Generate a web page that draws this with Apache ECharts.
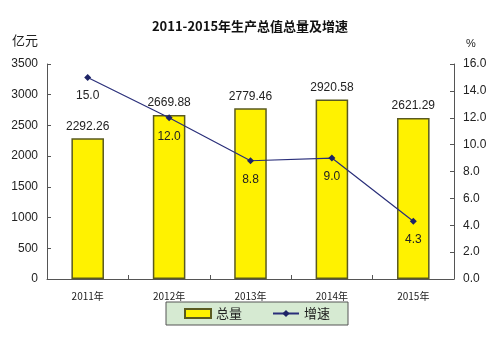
<!DOCTYPE html>
<html>
<head>
<meta charset="utf-8">
<script src="https://cdn.jsdelivr.net/npm/echarts@6/dist/echarts.min.js"></script>
<style>
  html, body { margin: 0; padding: 0; background: #fff; }
  #chart { width: 500px; height: 345px; }
</style>
</head>
<body>
<div id="chart"></div>
<script>
// 2011-2015 output totals (亿元) and growth rates (%)
const years = ['2011年', '2012年', '2013年', '2014年', '2015年'];
const totals = [2292.26, 2669.88, 2779.46, 2920.58, 2621.29];
const growth = [15.0, 12.0, 8.8, 9.0, 4.3];
const leftTicks = { min: 0, max: 3500, interval: 500 };
const rightTicks = { min: 0, max: 16, interval: 2 };

const font = '"Liberation Sans", Arial, sans-serif';
const cjk = '"Noto Sans CJK SC", sans-serif';

const chart = echarts.init(document.getElementById('chart'), null, { renderer: 'canvas' });
chart.setOption({
  backgroundColor: '#ffffff',
  animation: false,
  title: {
    text: '2011-2015年生产总值总量及增速',
    left: 'center',
    top: 15,
    textStyle: { fontFamily: cjk, fontSize: 13, fontWeight: 'bold', color: '#111' }
  },
  graphic: [
    { type: 'text', left: 12, top: 34, style: { text: '亿元', font: '13px ' + cjk, fill: '#222' } },
    { type: 'text', left: 466, top: 38, style: { text: '%', font: '11px ' + font, fill: '#222' } }
  ],
  legend: {
    left: 166,
    top: 302,
    padding: [5, 18, 5, 18],
    itemGap: 30,
    itemWidth: 26,
    itemHeight: 9,
    backgroundColor: '#d6ead2',
    borderColor: '#555',
    borderWidth: 1,
    borderRadius: 0,
    textStyle: { fontFamily: cjk, fontSize: 13, color: '#222' },
    data: [
      { name: '总量', icon: 'rect' },
      { name: '增速' }
    ]
  },
  grid: { left: 47, right: 46, top: 64, bottom: 66 },
  xAxis: {
    type: 'category',
    data: years,
    axisLine: { lineStyle: { color: '#555', width: 1 } },
    axisTick: { show: true, inside: true, length: 4, lineStyle: { color: '#555' } },
    axisLabel: { fontFamily: cjk, fontSize: 10, color: '#222', margin: 12 }
  },
  yAxis: [
    {
      type: 'value',
      min: leftTicks.min, max: leftTicks.max, interval: leftTicks.interval,
      axisLine: { show: true, lineStyle: { color: '#555' } },
      axisTick: { show: true, inside: true, length: 4, lineStyle: { color: '#555' } },
      axisLabel: { fontFamily: font, fontSize: 12, color: '#222', margin: 9,
        formatter: v => String(v) },
      splitLine: { show: false }
    },
    {
      type: 'value',
      min: rightTicks.min, max: rightTicks.max, interval: rightTicks.interval,
      position: 'right',
      axisLine: { show: true, lineStyle: { color: '#555' } },
      axisTick: { show: true, inside: true, length: 4, lineStyle: { color: '#555' } },
      axisLabel: { fontFamily: font, fontSize: 12, color: '#222', margin: 9,
        formatter: v => v.toFixed(1) },
      splitLine: { show: false }
    }
  ],
  series: [
    {
      name: '总量',
      type: 'bar',
      data: totals,
      barWidth: '40%',
      itemStyle: { color: '#fff200', borderColor: '#5a5a20', borderWidth: 1.5 },
      label: {
        show: true, position: 'top', distance: 6,
        fontFamily: font, fontSize: 12, color: '#222',
        formatter: p => p.value.toFixed(2)
      }
    },
    {
      name: '增速',
      type: 'line',
      yAxisIndex: 1,
      data: growth,
      symbol: 'diamond',
      symbolSize: 7,
      lineStyle: { color: '#2a2f7a', width: 1.2 },
      itemStyle: { color: '#1e2466' },
      label: {
        show: true, position: 'bottom', distance: 9,
        fontFamily: font, fontSize: 12, color: '#222',
        formatter: p => p.value.toFixed(1)
      }
    }
  ]
});
</script>
</body>
</html>
